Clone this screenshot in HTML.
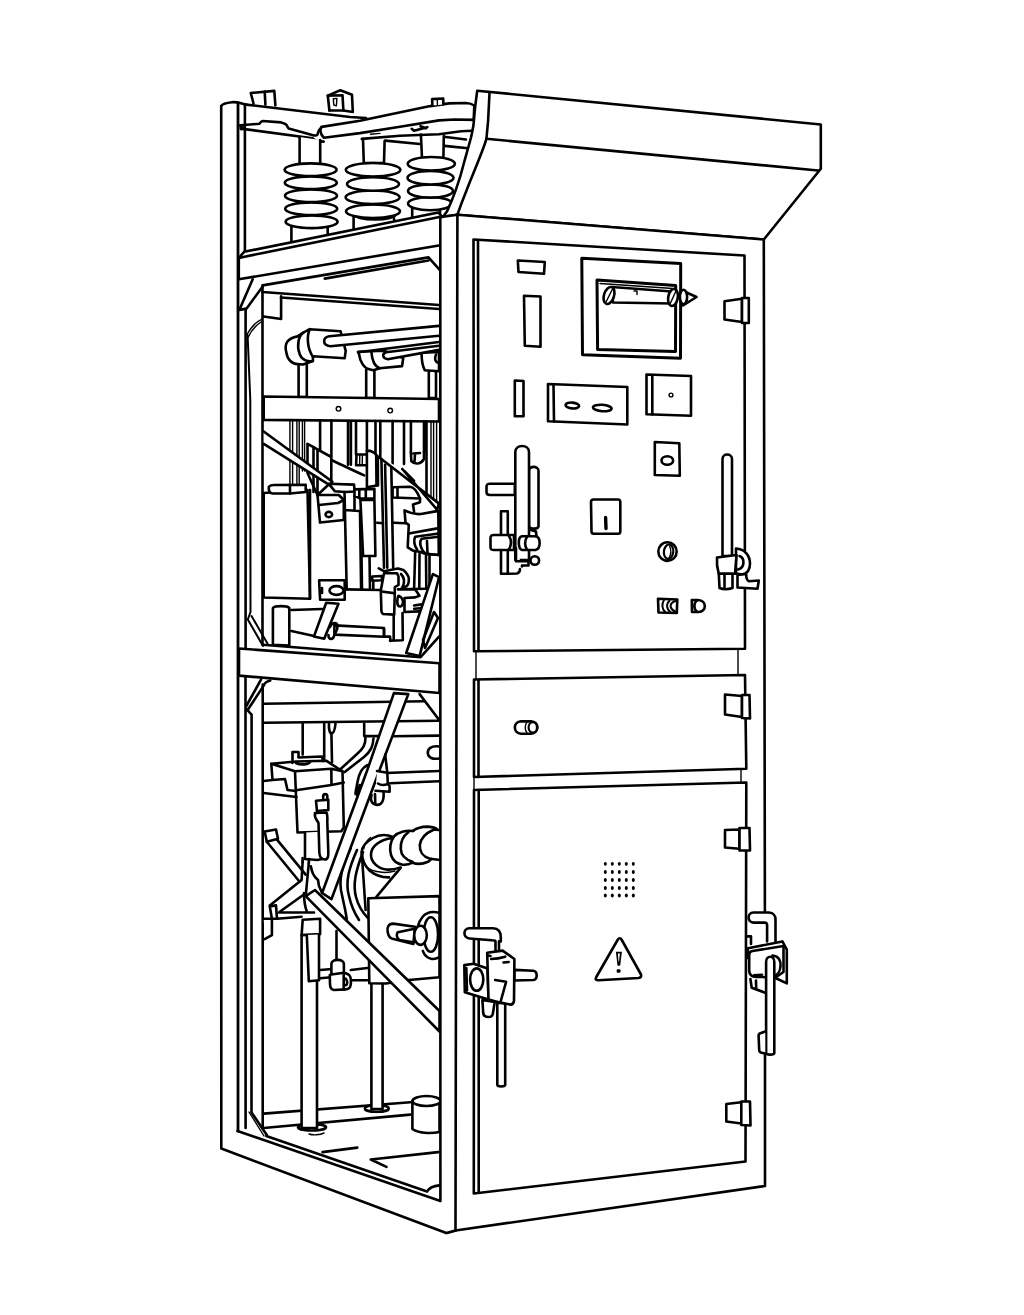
<!DOCTYPE html>
<html>
<head>
<meta charset="utf-8">
<title>Switchgear cabinet line drawing</title>
<style>
html,body{margin:0;padding:0;background:#fff;font-family:"Liberation Sans",sans-serif;}
svg{display:block;width:1024px;height:1315px;}
.s{fill:none;stroke:#000;stroke-width:2.6;stroke-linecap:round;stroke-linejoin:round;}
.w{fill:#fff;stroke:#000;stroke-width:2.6;stroke-linecap:round;stroke-linejoin:round;}
.t{fill:none;stroke:#000;stroke-width:1.4;stroke-linecap:round;stroke-linejoin:round;}
.wt{fill:#fff;stroke:#000;stroke-width:1.4;stroke-linecap:round;stroke-linejoin:round;}
.k{fill:#000;stroke:none;}
</style>
</head>
<body>
<svg viewBox="0 0 1024 1315" width="1024" height="1315">
<rect x="0" y="0" width="1024" height="1315" fill="#fff"/>

<!-- ===== LEFT OPEN FRAME ===== -->
<g id="frame">
<!-- left post -->
<path class="s" d="M221.2 106 L221.3 1148.5 L446.3 1233 L455.5 1230.5"/>
<path class="s" d="M221.2 106 C222.5 103.5 228 102.6 232 102.2 C237 101.6 241 103.5 246.3 104.6"/>
<path class="s" style="stroke-width:2.8" d="M238 103 L238 1131"/>
<path class="s" d="M237.5 1131 L440.4 1201"/>
</g>
<!--FRAME-END-->

<!-- ===== INTERIOR TOP ===== -->
<g id="int-top">
<!-- back rail -->
<path class="s" d="M385.2 140.6 L419.8 144 M443.8 136.8 L466 139.5 M444.5 145.9 L468 148.3"/>
<!-- top rail (left) -->
<path class="s" d="M246.3 104.6 L350 117 L366 118"/>
<path class="s" d="M240.4 125.2 L259.3 123.8 C261 122 261.5 121 262.7 121 L281.2 122.4 C284 123 286 124 286.6 125.2 C287.5 127 288 128 288.7 128.6 L314 135.4 C316 135.6 317 135.2 317.4 134.7 L318.8 130.6 L321.5 127.2"/>
<path class="s" d="M240.4 125.2 L241.2 129.3 L243 127.3"/>
<path class="s" d="M240.8 128.6 L312.6 138.2 L315.4 140.9 L323.6 141.6"/>
<path class="s" d="M244.9 105.3 L244.9 252.5"/>
<!-- tab 1 -->
<path class="w" d="M253.5 103.5 L250.8 93 L274.3 90.9 L275.4 105.5"/>
<path class="s" d="M264.7 91.6 L265.4 104.6"/>
<!-- tab 2 -->
<path class="w" d="M329.4 110.5 L327.8 95.6 L340.3 90.2 L352 94.8 L352.8 112 L343.4 110.5"/>
<path class="s" d="M327.8 95.6 L342.5 95.2 L343.4 110.5 L329.4 110.5"/>
<path class="t" d="M333.3 98.8 L336.9 98.4 L336.4 105.8 L333.8 105 Z"/>
<!-- insulator 1 -->
<path class="w" d="M299.6 137 L299.6 164 L320.2 164 L320.2 140"/>
<path class="w" d="M291.4 224 L291.4 244 L327.7 236 L327.7 224 Z"/>
<ellipse class="w" cx="311.6" cy="221.8" rx="26" ry="6.3"/>
<ellipse class="w" cx="311.2" cy="208.7" rx="26" ry="6.3"/>
<ellipse class="w" cx="311" cy="195.7" rx="26" ry="6.3"/>
<ellipse class="w" cx="310.8" cy="182.7" rx="26" ry="6.3"/>
<ellipse class="w" cx="310.6" cy="169.7" rx="26" ry="6.3"/>
<!-- insulator 2 -->
<path class="w" d="M363 139 L363.8 163 L384 163 L384.6 141"/>
<path class="w" d="M353.6 214 L353.6 232 L395 224 L393 214 Z"/>
<ellipse class="w" cx="375" cy="214" rx="21" ry="5.5"/>
<ellipse class="w" cx="373" cy="211.3" rx="27" ry="6.8"/>
<ellipse class="w" cx="372.6" cy="197.3" rx="27" ry="6.8"/>
<ellipse class="w" cx="373" cy="184" rx="26" ry="6.8"/>
<ellipse class="w" cx="373.1" cy="169.8" rx="27.3" ry="6.8"/>
<!-- insulator 3 -->
<path class="w" d="M420.9 134.5 L422 158 L443.4 158 L443.8 136"/>
<path class="w" d="M412.2 205 L412.2 222 L440 216 L440 205 Z"/>
<ellipse class="w" cx="430" cy="203.6" rx="22" ry="6.6"/>
<ellipse class="w" cx="430.5" cy="191" rx="22.5" ry="6.6"/>
<ellipse class="w" cx="430.5" cy="177.7" rx="23" ry="6.8"/>
<ellipse class="w" cx="431.3" cy="163.8" rx="23.6" ry="6.8"/>
<!-- beam -->
<path class="w" d="M360 120.8 L321.6 126.9 C319.5 129.5 320.3 134.5 323.9 137.8 L360 133.1 L400 126.8 L439 120.4 L454.7 119.5 L473.7 119.9 L474.3 105.5 C471 103.4 468 103 465.5 103 L449.1 103.4 L430.3 106.1 Z"/>
<path class="w" d="M432.4 105.5 L432.1 99.1 L443.2 98.5 L443.4 104.4"/>
<path class="t" d="M437.3 99 L437.4 104.6"/>
<path class="s" d="M361.8 138.9 L400 135.8 L419 135 L439 134.2 L461 131.3 L472 130.8"/>
<path class="s" d="M411.7 128.8 L414 130.7 L427.3 127.2 M420.5 126.2 L425.8 128.3"/>
<path class="t" d="M370.5 134.2 L380 133.4"/>
<!-- shelf rail -->
<path class="w" d="M244.2 251.8 L438.3 212.6 L441.9 216.4 L440.3 245.2 L238.8 279.3 L238.8 257.9 Z"/>
<path class="s" d="M238.8 257.9 L441.9 216.4"/>
</g>
<!--INT-TOP-END-->

<!-- ===== INTERIOR MID ===== -->
<g id="int-mid">
<!-- compartment outline -->
<path class="s" d="M252.7 279.3 L239.3 309.9 L246.6 308.6 L262.5 286.7"/>
<path class="s" d="M245.6 309 L245.6 648"/>
<path class="s" style="stroke-width:2" d="M247.6 335 L250.3 400 L250.5 612 L247.8 619.5 L263 646 M251.5 616 L267.5 643.5"/>
<path class="s" d="M262.5 644.8 L262.5 285.4 L428.5 257.4 L439.5 269.6"/>
<path class="s" d="M324.7 278.6 L428.5 260.5"/>
<path class="s" d="M262.5 292 L439 305 M281 297.5 L439 309"/>
<path class="s" d="M281.1 296.4 L281.1 319 L263.7 316.5"/>
<path class="t" d="M247 334.5 C250 329 255 322.5 261.6 319.3 M248.3 337 C251 331 256 325 262 321.5"/>
<!-- contact stems -->
<path class="w" d="M298.6 364 L298.6 397 L306.8 397 L306.8 362"/>
<path class="w" d="M366.2 370 L366.2 398 L374.4 398 L374.4 370"/>
<path class="w" d="M428.8 372 L428.8 398 L436 398 L436 372"/>
<!-- contact 3 (right, partially hidden) -->
<path class="w" d="M421.6 352.8 C421.5 362 423 367 424.7 370.2 L439 371.3 L439 352 Z"/>
<path class="s" d="M436 354.5 C434.5 358 434.5 362 439 363"/>
<!-- tube 2 + contact 2 -->
<path class="w" d="M358 351.8 L384 350.8 L403.2 358 L402.1 366.1 L379.6 368.2 L373.4 370.2 L369.2 369.2 C364 368 360 362 359 353.8 Z"/>
<path class="s" d="M371.4 351.8 C372 361 374 366 379.6 368.2"/>
<path class="w" d="M439 345.8 L386 352.2 C382 353.5 382 358.5 387.8 359.2 L439 349.9"/>
<path class="s" d="M358 352.2 L439 342"/>
<!-- contact 1 + tube 1 -->
<path class="w" d="M297.5 336.4 C287.3 338.4 284.2 343.6 286.2 351.8 C287.3 360 292.4 364.1 297.5 364.1 L303 364.5 L312.9 361 L312.9 356.3 L344.7 358.3 L345.7 350.8 L341.6 335.4 L340.6 331.3 L309.8 329.2 L303.7 332.3 Z"/>
<path class="s" d="M303.7 332.3 C298.5 335.4 296.5 345.6 299.6 353.8 C301.6 360 307.8 362 312.9 361"/>
<path class="s" d="M309.8 329.2 C306.8 335.4 306.8 347.7 312.9 356.9"/>
<path class="w" d="M439 325.9 L329.3 336.2 C322.5 337 322 345.5 330.3 346.2 L439 335.7"/>
<!-- crossbar -->
<path class="w" d="M263.7 396.5 L439 399 L439 421.5 L263.7 419.9 Z"/>
<circle class="t" cx="338.5" cy="408.8" r="2.3"/>
<circle class="t" cx="390.2" cy="410.6" r="2.3"/>
<!-- vertical bars under crossbar -->
<path class="t" d="M289.9 420.5 L289.9 486 M292.6 420.5 L292.6 486 M296.9 420.5 L296.9 486 M299.2 420.5 L299.2 486 M302.4 420.5 L302.4 471 M304.6 420.5 L304.6 471"/>
<path class="s" d="M320.1 420.5 L320.1 450 M331.4 420.5 L331.4 456 M348 421 L348 464.7 M350.9 421 L350.9 464.7 M356 421 L356 454.5 M366.9 421 L366.9 451 M375.5 421 L375.5 453 M380.3 421 L380.3 457 M392.6 421 L392.6 467 M404 421 L404 464 M410.9 421 L410.9 452 M424 421.3 L424 452 M426.5 421.3 L426.5 493"/>
<path class="t" d="M431 421.3 L431 497 M433.6 421.3 L433.6 499 M436.6 421.3 L436.6 502"/>
<!-- small brackets at top of plates -->
<path class="s" d="M356.7 454.5 L366.9 454.5 M356.1 465.2 L366.9 465.2 M356.5 454.5 L356.1 465.2"/>
<path class="t" d="M359.8 455 L359.6 465 M362.4 455 L362.2 465"/>
<path class="s" d="M410.9 452 L411.3 461 C415 465 421 464.3 424 459 L424 452 M413.5 453.5 L420 453 M415 454 L414.6 461"/>
<!-- plate left-centre -->
<path class="w" d="M307.5 443.8 L331.3 457 L331.3 482 L317.5 495 L307.5 473 Z"/>
<path class="s" d="M313.5 447 L313.5 492 M317.5 450 L317.5 495"/>
<path class="s" d="M331.3 460 C338 463 352 470 364.2 475.4"/>
<!-- diagonal brace left -->
<path class="w" d="M263.7 431.5 L332.4 481.8 L329.3 484.9 L263.7 443.8"/>
<!-- tall plate centre -->
<path class="w" d="M366.9 487.3 L366.9 450.7 C369 450.5 372 451.5 374.4 452.9 L376.2 455 L376.5 485.5 Z"/>
<path class="s" d="M376.2 455 L377.8 456.5 L378 485.5 L376.5 485.5"/>
<!-- right diagonal -->
<path class="w" d="M379.7 457.7 L438.8 503.4 L437.2 509.8 L402.3 469"/>
<path class="s" d="M404.5 471.2 L414.1 480.8"/>
<!-- three long slanted verticals -->
<path class="s" d="M381.4 459 L384 567.8 M385.1 464.7 L387.3 567.8 M391.3 467 L393.2 567.8"/>
<!-- tank -->
<path class="w" d="M263.7 493 L263.7 597.5 L310 598.8 L307.5 490 Z"/>
<path class="w" d="M268.8 486.9 C270 485.5 272 485 274 485 L305.7 484.8 L305.7 492 L290 493.5 L272.5 493.5 C269 493 268.5 490 268.8 486.9 Z"/>
<path class="s" d="M290 485 L290 493.5"/>
<!-- block at end of brace -->
<path class="w" d="M328.8 483.8 L354 484.6 L354.5 489.4 L354.5 491.5 L345 492 L335 491.3 Z"/>
<!-- bracket with hole -->
<path class="w" d="M317.5 495 L338.8 495 L343.8 500 L343.8 520 L320 522.5 Z"/>
<path class="s" d="M319 505 L338 503 L343.8 500"/>
<ellipse class="s" cx="328.8" cy="514.5" rx="3.3" ry="2.6"/>
<!-- centre block + column -->
<path class="s" d="M344.5 492 L346.7 589.5 M344.3 510 L359.3 511 M354.5 496 L354.5 510.5"/>
<path class="w" d="M354.5 489.4 L374.4 488.9 L374.4 498.5 L360.4 498.5 L354.5 495.9 Z"/>
<path class="s" d="M359.3 489.5 L359.3 498 M365.8 489.3 L365.8 498.5"/>
<path class="w" d="M360.4 500 L363.1 556 L375.4 556 L374.4 500 Z"/>
<path class="s" d="M377 522.7 L383 523.3 M360 511 L361.1 589.5"/>
<!-- right shapes -->
<path class="w" d="M392.6 487.3 L409.8 486.7 C414 487 417.3 491.6 420 498.5 L392.6 497.5 Z"/>
<path class="s" d="M397.5 487.5 L397.5 497.5"/>
<path class="s" d="M420 498.5 L420 502.3 L413 504.5 L414.1 512"/>
<path class="w" d="M404.5 510.4 C410 513 416 514.5 421 514 L438.3 510.9 L438.8 555 L425.9 553.9 L419.5 551.7 L413 550.6 L407.7 547.4 L408.8 524.9 L405.5 522.7 Z"/>
<path class="s" d="M408.8 533.5 L438.8 528.1 M393.7 522.7 L405.5 523.3"/>
<path class="s" d="M438.8 533.5 L415.2 536.7 C413.5 540 414 546 417.3 549.6"/>
<path class="s" d="M438.8 536.7 L421.6 538.8 C419 542 420 549 425.9 553.9 L438.8 555"/>
<path class="s" d="M427 541 L427.5 554"/>
<path class="s" d="M415.2 552 L414.1 588.5 M419.5 553.9 L419.3 588.5 M426 556 L426.3 588.5 M429.5 556 L429.5 588.5"/>
<!-- panel bottom / tank line -->
<path class="s" d="M310 598.8 L310 490"/>
<!-- block with oval -->
<path class="w" d="M319.1 580.2 L344.7 580.2 L344.7 599.7 L320.1 599.7 Z"/>
<ellipse class="s" cx="336.5" cy="590.5" rx="7" ry="4.4"/>
<path class="s" d="M322 588 L322 593"/>
<!-- floor line + cylinder + rod -->
<path class="s" d="M262.7 644.8 L420.6 657.2 L439 636.6"/>
<path class="s" d="M291.4 610 L322.1 609 M291.4 631 L314 636"/>
<path class="w" d="M272.9 608 L272.9 644.8 L289.3 645.5 L289.3 608 C287 605.5 275 605.5 272.9 608 Z"/>
<path class="w" d="M334.4 625.4 L384 628 L384 636.8 L334.4 634.6 Z"/>
<path class="w" d="M326.2 602.8 L338.5 603.8 L324.2 638.7 L313.9 636.6 Z"/>
<path class="s" d="M330 627 C332 622 337 622 337.5 626 C338 631 335 632 334 636 C333 640 328 640 328.5 635"/>
<!-- mechanism block -->
<path class="s" d="M361.5 556 L362 589.4 M369.5 556 L370 589.4 M346.4 589.4 L380.8 590"/>
<path class="s" d="M372.2 576.5 L381.9 576 L381.9 580.3 L372.2 580.8 Z M373.3 581 L373.3 589.5"/>
<path class="s" d="M378.7 568.4 L384 571.2 L398 568.4 L403.4 570 C407 573 409 577 408.8 578.6 C409 582 408 585 406.6 586.2 L402 587.5 M401 574 C404 577 404.5 582 403 586"/>
<path class="w" d="M384 573.3 L397 573.3 L398.5 576.5 L398.5 585 L394.8 587.2 L394.8 592.6 L394.2 614.6 L383 614 C381.8 613 381.4 612.5 381.4 611 L380.8 590.5 Z"/>
<path class="s" d="M381.4 591.5 L393.7 593.1"/>
<path class="s" d="M398 589.4 L415.2 589.4 L419.5 595.8 L415.2 597.4 L404.5 598 L404.5 612 L419.5 611.4 M398 589.2 L427 588.8 M414.1 605.5 L421.6 604.4 M414.1 608.7 L420.6 608.2"/>
<path class="s" d="M398.5 595.8 C402 597 404 601 402.5 604.5 C401.5 607 399.5 607 398 605.5 C397 603 397 598 398.5 595.8 Z"/>
<path class="s" d="M393.7 615 L393.7 639 M402.5 613 L402.8 640 M390 640.8 L402.5 640.3 M384 629 L384 636.6 L390 636.6 L390.5 641"/>
<!-- right strut -->
<path class="w" d="M432.9 574.1 L439 577.2 L419.6 656.1 L406.2 653 Z"/>
<path class="s" d="M423 640 L434 612 L438 618 L425 648 Z"/>
</g>
<!--INT-MID-END-->

<!-- ===== INTERIOR LOW ===== -->
<g id="int-low">
<!-- left inner verticals -->
<path class="s" d="M261 679.7 L246.3 706 M270.2 680.5 C266 681.5 264.5 683 263.7 685.6 L247.6 710"/>
<path class="s" d="M245.5 677 L245.6 1128"/>
<path class="s" d="M246.5 709.2 L251.6 714.6 L251.5 1112.5 L266.8 1135"/>
<path class="t" d="M249 1112 L264 1136"/>
<path class="s" d="M262.7 684.5 L262.7 1127"/>
<!-- back floor rail + floor marks -->
<path class="s" d="M263.7 1113.6 L410.3 1102.3 M263.7 1128 L410.3 1114.6"/>
<path class="s" d="M266.3 1136 L427 1191.6 C429 1188 433 1186 439.3 1185.4"/>
<path class="s" d="M322.5 1152.1 L357.3 1147.6 M386.5 1166.9 L370.8 1159.5 L438.2 1152.1"/>
<path class="t" d="M309 1134 C313 1135.5 320 1135 324 1133"/>
<!-- cylinder on floor -->
<path class="w" d="M412.4 1101 L412.4 1129 C418 1133 430 1134 439.5 1132 L439.5 1099 Z"/>
<ellipse class="w" cx="426.5" cy="1101" rx="14" ry="5"/>
<!-- post 2 -->
<ellipse class="w" cx="376.8" cy="1108.4" rx="12" ry="3.4"/>
<path class="w" d="M371.4 984.3 L371.4 1109 L382.6 1109 L382.6 984.3"/>
<!-- post 1 -->
<ellipse class="w" cx="312" cy="1127.3" rx="14" ry="3.2"/>
<path class="w" d="M301.6 935 L301.6 1128 L317 1128 L317 981"/>
<!-- horizontal rail under mid rail -->
<path class="s" d="M263.7 703.7 L424.7 701.3 M263.7 722.8 L439 720.8"/>
<path class="s" d="M419.6 694.1 L439 719.7"/>
<!-- things hanging under rail -->
<path class="s" d="M302.7 723.8 L302.7 754.6 M324.2 723.8 L324.2 760.7 M331.4 733 L332 762"/>
<path class="s" d="M329 723.5 C328.5 730 330 733.5 331.4 733.5 C333.5 733.5 335 729 335.5 723.5"/>
<path class="s" d="M364.2 723.8 L364.2 736.1 L379.6 736.1"/>
<path class="s" d="M365.5 737.5 C365.5 745 363 749 357 754 L340.6 769 M373.5 738.5 C373 746 371 751 364 757 L344.7 772"/>
<path class="s" d="M392 736.3 L439 735.6"/>
<!-- right: circle & horizontals -->
<path class="s" d="M439 746.5 C431 745.5 427.5 749 427.8 753 C428 758 433 759.5 439 758.5"/>
<path class="s" d="M385.7 773 L439 771 M389.8 783.3 L439 781.3"/>
<!-- bushing (big insulator horizontal) -->
<path d="M393 837 C386 834 379 834.5 373 838 C366 842 361.7 847 361.7 852 C362 860 365 866 369.5 870.5 C376 876 383 877.5 389 877.4 L402.7 864.7 L428 861.8 L439 860 L439 829 L427 826.6 L413.5 831 Z" fill="#fff" stroke="none"/>
<path class="s" d="M393 837 C386 834 379 834.5 373 838 C366 842 361.7 847 361.7 852 C362 860 365 866 369.5 870.5 C376 876 383 877.5 389 877.4"/>
<path class="t" d="M363.8 849 C364.3 843 367 840 370.5 837.5 M366 866.6 C369 869.5 373 871.5 382 872.3 C388 872.8 392 872 395 871"/>
<path class="s" d="M391 838.3 C380 840 371.5 846 371 854 C370.5 862 378 868.5 386 869.5 C391 870 396 869 399.8 867.6"/>
<path class="s" d="M413.5 831 C406 830 398 832 394 836.4 C390 842 389.5 849 391 855 C393 861 398 864 402.7 864.7 C406 865 410 864 412.5 862.7"/>
<path class="s" d="M408.6 832 C403 836 400.5 843 400.8 849 C401 855 404 859 412.5 861.8"/>
<path class="s" d="M412.5 831 C417 828 422 826.6 427.1 826.6 C431 826.8 435 827.8 437 829 M412.5 862.7 C417 864.5 423 864 428 861.8 C430 860.5 431 859.5 431 858.8"/>
<path class="s" d="M438.4 830 L434 829.5 C426 833 420.5 839 419.8 845 C419.5 852 422 856 430 858.8 L438.4 859.8"/>
<path class="s" d="M400.8 867.6 L376.4 896.9 M361.7 852 L365.6 910"/>
<!-- box lower-right with knob -->
<path class="w" d="M368.3 898.2 L439.5 896.1 L439.5 977.2 L406.2 980.2 L386 983.5 L369.3 983.3 Z"/>
<path class="s" d="M439.2 912.7 C432 911 426 912.5 422.5 917 C420 920 418.5 923 417.8 926.5 M422.8 950.9 C424.5 955.5 427.5 958 431 958.8 C434 959.3 437 958.5 439.2 957.2"/>
<ellipse class="s" cx="430.8" cy="934.5" rx="7.3" ry="17.3"/>
<path class="w" d="M415 926.7 L393.1 923.6 C388.5 923.8 386.8 927.5 387.6 931.5 C388.3 935.5 390 937.8 391.6 938.4 L413.4 943.9 Z"/>
<path class="s" d="M413.4 929 L397.8 932.2 C396 934 396.5 938 399.4 940 L413.4 942.3"/>
<ellipse class="w" cx="420.5" cy="935.3" rx="6.3" ry="9.6"/>
<!-- transformer box -->
<path class="w" d="M271.3 763.8 L296 761.5 L326.2 760.7 L342.5 771.3 L343.8 827.5 L341.3 831.3 L297.5 832.5 L295 771.3 Z"/>
<path class="s" d="M295 771.3 L331.3 768.8 L342.5 771.3 M297.5 790 L331.5 785 L343.8 782.5 M331.3 768.8 L331.5 785"/>
<path class="s" d="M271.3 763.8 L272.5 780 L285 779 L287.5 790 L296 791 M263.7 781 L272.5 780 M263.7 793 L296.5 797"/>
<path class="s" d="M292.5 763 L292.5 752 L298.5 752 L298.5 757.5 L322 756.5 L323 761 M296 763 C300 765 308 765 310 762"/>
<!-- lower part of box + cable -->
<path class="w" d="M305 832.5 L305 859 L317.5 860 L326 858 L326 831.5"/>
<path class="w" d="M316 800.8 L328.3 799.7 L328.3 810 L317 811 Z"/>
<path class="s" d="M323.2 800 L323.2 796 C323.5 793.5 327 793.5 327.3 796 L327.3 799.7"/>
<path class="w" d="M315 813 C314 818 317 820 318.5 823 L319.3 852 C319.5 857 322 859.5 325 859.5 C328 859.5 328.5 856 328.3 852 L327.3 822 C327.5 818 327.5 815 326.5 812.5 Z"/>
<!-- left small block + X brace -->
<path class="w" d="M264.7 831.5 L276 829.5 L278 838.7 L266.8 841.8 Z"/>
<path class="s" d="M266.8 841.8 L299.6 881.8 M277 839.7 L305.7 874.6"/>
<path class="s" d="M302.6 862.3 L301.6 880 L269.8 905.4 M308.8 863 L306 893 L280.1 911.5"/>
<path class="s" d="M302.6 862.3 L302.6 858 M308.8 863 L309 859"/>
<!-- cables centre -->
<path class="s" d="M350.8 848 C342 866 338 880 342 895 C344 905 346 912 346.8 920 M357 850 C349 868 345 882 349 896 C351 905 355 914 359 920 M363 852 C356 870 352.5 884 356 897 C358 905 363 913 368 918"/>
<!-- long diagonal strut A -->
<path class="w" d="M393.9 693.1 L367.3 770 L322.1 893 L331.4 899.2 L379.6 770 L408.3 694.1 Z"/>
<path class="s" d="M367.2 765.2 C361 768 358.5 776 357.5 782 C356.5 788 355.5 791 355.5 794 M359.8 785 C358.5 789 357.5 792 357 795"/>
<path class="s" d="M385.2 754.5 L387.2 772"/>
<path class="w" d="M377 771 L387.3 772.8 L387.8 784 L389.6 786 L389.6 791.8 L375.5 790.8"/>
<path class="s" d="M378 783.5 C381 785.5 385 785 387.8 784"/>
<path class="s" d="M371.5 795 C369.8 800.5 372 804.6 377 804.9 C382 805 384 800.5 383.6 792.5 M375 794 L375.3 804"/>
<!-- diagonal strut B (down-right) -->
<path class="s" d="M310.9 866.4 C312 872 313 876 318 880 L319 886 L322.1 893"/>
<path class="w" d="M315 890 L439.5 1011 L439.5 1031.5 L305.7 896.2 Z"/>
<!-- horizontal bar + bracket left -->
<path class="s" d="M277 918.7 L301.6 916.7 M279 912.5 L314 912.5 M304 893 C304 900 305 907 307 912"/>
<path class="w" d="M263.7 918.7 L271.9 918.7 L271.9 935.1 L264.7 939.2"/>
<path class="w" d="M269.8 906.4 L276 905.4 L277 918.7 L271.9 918.7 Z"/>
<path class="w" d="M302.7 919.7 L320.1 918.7 L320.1 934.1 L301.6 935.1 Z"/>
<path class="w" d="M306.8 935 L308.8 981.3 L319 980.3 L319 934.5"/>
<!-- valve -->
<path class="s" d="M336.5 931 L336.5 960.8"/>
<path class="s" d="M320.1 970 L332.4 969 M320.1 978.2 L331.4 977.2 M350.8 970 L367.3 968 M350.8 980.2 L367.3 980.2"/>
<path class="w" d="M331.4 974 L331.4 964 C331.4 958.5 343.9 958.5 343.9 964 L343.9 972.5 L348.5 974.5 C351 976 351.2 979 350.9 983.5 C350.5 988 349 989.3 346 989.4 L334 990 C330.5 989.5 330 987 330 984 L329.8 975 Z"/>
<path class="s" d="M331.4 974.5 L343.9 972.8 M343.9 978 C347 978.5 348 982 346.5 985 L343.7 985.5 M343.7 974 L343.7 989.5"/>
</g>
<!--INT-LOW-END-->
<g id="midrail">
<path class="w" d="M239 648.5 L439.5 663.3 L439.5 693 L239 675.6 Z"/>
</g>
<!--MIDRAIL-END-->


<!-- ===== CAP ===== -->
<g id="cap">
<path class="w" d="M477.2 90.7 L820.8 124.5 L820.8 168.8 L763.8 239.5 L457.4 214.7 L443 216.8 C445 214 446 213 447.1 211.3 C450 205 453 198 456 189.4 C459 181 462 171 464.2 162 C467 152 469 145 471 137.5 C472.5 131 473 128 473.5 125 L475.1 107.4 Z"/>
<path class="s" d="M489.5 93 L488.1 121 L486.4 138.8 L818 170.5"/>
<path class="s" d="M486.4 138.8 C484 147 481 154 477.9 162 C474 172 470 181 466.9 189.4 C463 199 460 207 457.4 214.7"/>
</g>
<!--CAP-END-->

<!-- ===== FRONT BODY ===== -->
<g id="front">
<path d="M440.3 217.5 L443 216.8 L457.4 214.7 L763.8 239.5 L765 1186 L455.5 1230.5 L446.3 1233 L440.4 1201 Z" fill="#fff" stroke="none"/>
<path class="s" d="M440.4 1201 L440.3 217.5 L443 216.8 L457.4 214.7 L763.8 239.5 L764.9 912.5 M765 1054 L765 1186 L455.5 1230.5 L446.3 1233"/>
<path class="s" d="M457.4 214.7 L455.5 1230.5"/>
<!-- upper door -->
<path class="s" d="M473.5 239.5 L744.5 255.5 L745 648.8 L474 651.3 Z"/>
<path class="s" d="M478 241 L478.5 651"/>
<!-- drawer -->
<path class="s" d="M474 679.5 L745 675 L746.3 768.8 L474 777 Z"/>
<path class="s" d="M478.5 680 L478.5 777"/>
<path class="t" d="M476 651.3 L476 679.5"/>
<path class="t" d="M738 649 L738 675"/>
<!-- lower door -->
<path class="s" d="M474 790 L746.3 782.5 L745.5 1161.5 L473.8 1193.5 Z"/>
<path class="s" d="M478.7 790 L478.7 1192.5"/>
<path class="t" d="M474 777 L474 790"/>
<path class="t" d="M741 769 L741 782.5"/>
</g>
<!--FRONT-END-->

<!-- ===== DOOR DETAILS ===== -->
<g id="details">
<!-- small rect, tall rect -->
<path class="s" d="M517.8 260.5 L544.8 262 L544 273.8 L518.5 272 Z"/>
<path class="s" d="M524 295.8 L540.5 296.5 L540.5 346.8 L524.8 345.8 Z"/>
<!-- display -->
<path class="s" style="stroke-width:3" d="M581.8 258.3 L680.7 263.5 L680.5 358.3 L582.5 354.7 Z"/>
<path class="s" style="stroke-width:3" d="M597 280 L675.7 285.5 L675.5 351.5 L597.6 349.5 Z"/>
<path class="t" d="M600 283.5 L673 288.5"/>
<path class="w" d="M612 287 L672 291.5 L672 303.5 L613 302.5 Z"/>
<ellipse class="w" cx="609" cy="295.5" rx="5" ry="8.8" transform="rotate(18 609 295.5)"/>
<path class="t" d="M606 302 L612.5 289"/>
<path class="t" d="M634 291 L637 291 L637 294.5"/>
<ellipse class="w" cx="673" cy="297.5" rx="4.8" ry="8.6" transform="rotate(10 673 297.5)"/>
<path class="t" d="M670 304 L676 291"/>
<path class="w" d="M681 290 L696.5 297 L683 305.5 Z"/>
<ellipse class="w" cx="683.5" cy="297" rx="3.6" ry="7.2"/>
<!-- switch small, 2-oval panel, right square -->
<path class="s" d="M514.8 380.5 L523.5 381 L523.5 416.3 L514.8 416.3 Z"/>
<path class="s" d="M548 384 L627.3 387 L627.3 424.5 L548 421.3 Z"/>
<path class="s" d="M553.5 384.5 L554 421.5"/>
<ellipse class="s" cx="572.3" cy="405.5" rx="6.8" ry="2.9" transform="rotate(5 572.3 405.5)"/>
<ellipse class="s" cx="602.3" cy="408" rx="9.3" ry="3.2" transform="rotate(4 602.3 408)"/>
<path class="s" d="M646.5 374.5 L691 376 L691 415.8 L646.5 414.3 Z"/>
<path class="s" d="M652.3 375 L652.3 414.5"/>
<circle class="t" cx="671" cy="395" r="1.9"/>
<!-- rect with oval -->
<path class="s" d="M654.8 442 L679.3 443.3 L679.8 475.8 L654.8 475 Z"/>
<ellipse class="s" cx="667.3" cy="460.5" rx="5.8" ry="4.3"/>
<!-- square with I -->
<path class="s" d="M593.5 499.5 L618 499.5 Q620.3 499.5 620.3 502 L620.3 531.5 Q620.3 533.8 618 533.8 L594 533.8 Q591.5 533.8 591.5 531.5 L591 502 Q591 499.5 593.5 499.5 Z"/>
<path class="s" style="stroke-width:3.4" d="M605.6 517.5 L606 528.5"/>
<!-- round knob -->
<ellipse class="s" cx="667.5" cy="551.6" rx="9.2" ry="9.3"/>
<ellipse class="s" style="stroke-width:2.2" cx="668.6" cy="551.7" rx="4.7" ry="7.2" transform="rotate(6 668.6 551.7)"/>
<path class="t" d="M669.8 546.5 C671.2 550 670.8 555 669 557.8"/>
<!-- small indicator + D -->
<path class="s" d="M658 598.8 L677.3 599.5 L676.8 613 L658.5 612.5 Z"/>
<path class="s" style="stroke-width:2" d="M663.8 600.5 C661.5 604 662 609 665 611.8 M676 601 C669.5 602.5 668.5 608 675 611.5 M669.5 600.8 C666 604 666.3 609 670.5 612"/>
<path class="s" d="M691.8 600 L698 600 C707 600.5 707 611.5 698.5 612 L692 612 Z"/>
<path class="s" d="M697 600.5 C693.5 603 693.5 609 697 611.8"/>
<!-- left handle on upper door -->
<path class="w" d="M529 466.3 L529 471 C529 465.5 538.5 465.5 538.5 471 L538.5 526 C538.5 529.5 530 529.5 529 526 Z"/>
<path class="w" d="M486.5 487 C486.5 484 488 483.8 490 483.8 L514.8 483.8 L514.8 495 L490 495 C488 495 486.5 494.5 486.5 492 Z"/>
<path class="w" d="M501 511.3 L507.8 511.3 L507.8 573.8 L501 573.8 Z"/>
<path class="w" d="M515.3 560 L515.3 452 C515.3 444 529 444 529 452 L529 560 Z"/>
<path class="w" d="M490.5 538 C490.5 535 492 535 494 535 L514 535 L514 550 L494 550 C491.5 550 490.5 549.5 490.5 547 Z"/>
<path class="s" d="M509 536 C511.5 540 511.5 545 509 549.5"/>
<path class="w" d="M516 548 L516 561.3 L528.5 561.3 L528.5 565.5 L522 565.5 L522 566.5"/>
<circle class="w" cx="534.8" cy="560.5" r="4.3"/>
<path class="w" d="M522 536.3 L535.5 536.3 C541 537 541 549 535.5 550 L522 550 C518 549 517.5 537 522 536.3 Z"/>
<path class="s" d="M527 537 C524.5 540 524.5 546.5 527 549.5"/>
<path class="s" d="M531 530 L536 531.5 L536.5 536.5"/>
<path class="s" d="M507.8 573.8 L517 573.5 C519 573 520 571 520 569"/>
<!-- right rod + lock on upper door -->
<path class="w" d="M722.5 556 L722.5 459 C722.5 453 732 453 732 459 L732 556 Z"/>
<path class="w" d="M736 548.5 C745 549 750 556 750 563.5 C750 571 746 574 742 574.5 L736 573.5 Z"/>
<path class="s" d="M739.5 556 C745 558 745 568 738 569.5"/>
<path class="w" d="M717 557.5 L736.5 555 L735 573.8 L718.8 573.8 C717 568 716.5 563 717 557.5 Z"/>
<path class="w" d="M718.8 573.8 L732.5 573.8 L732.5 588 C728 589.5 723 589.5 719.5 588 Z"/>
<path class="s" d="M724.5 574 L724.5 588.5"/>
<path class="w" d="M737.5 575 L737.5 587.5 L757.5 588.8 L758.8 580.5 L749 581.3 C746.5 580 746 577 746.3 574 Z"/>
<!-- hinges -->
<path class="w" d="M724.5 301.3 L742 298.8 L742 322 L724.5 319.5 Z"/>
<path class="w" d="M742 298 L748.8 298 L748.8 323 L742 323 Z"/>
<path class="w" d="M725 694.5 L742 696 L742 717 L725 714.5 Z"/>
<path class="w" d="M742 695 L749.5 695 L750 718.5 L742 718 Z"/>
<path class="w" d="M725 830 L739.5 829.5 L739.5 848.8 L725 847.5 Z"/>
<path class="w" d="M739.5 828 L749.5 828 L750 850.5 L739.5 850.5 Z"/>
<path class="w" d="M726.3 1104 L741.3 1102.3 L741.3 1123.5 L726.3 1121.5 Z"/>
<path class="w" d="M741.3 1101.5 L750 1101.5 L750.5 1125.5 L741.3 1125 Z"/>
<!-- drawer knob -->
<path class="s" d="M521 721.4 L531 721.2 C539.3 721.4 539.3 733.6 531 733.7 L521 733.7 C512.8 733.4 512.8 721.7 521 721.4 Z"/>
<ellipse class="s" style="stroke-width:2.2" cx="533" cy="727.4" rx="4.4" ry="5.2"/>
<path class="t" d="M527 722.3 C524.6 725 524.6 730 527 732.6"/>
<!-- dots -->
<ellipse class="k" cx="605.3" cy="863.8" rx="1.5" ry="1.9"/><ellipse class="k" cx="605.3" cy="872.0" rx="1.5" ry="1.9"/><ellipse class="k" cx="605.3" cy="880.0" rx="1.5" ry="1.9"/><ellipse class="k" cx="605.3" cy="888.0" rx="1.5" ry="1.9"/><ellipse class="k" cx="605.3" cy="895.5" rx="1.5" ry="1.9"/><ellipse class="k" cx="612.3" cy="863.8" rx="1.5" ry="1.9"/><ellipse class="k" cx="612.3" cy="872.0" rx="1.5" ry="1.9"/><ellipse class="k" cx="612.3" cy="880.0" rx="1.5" ry="1.9"/><ellipse class="k" cx="612.3" cy="888.0" rx="1.5" ry="1.9"/><ellipse class="k" cx="612.3" cy="895.5" rx="1.5" ry="1.9"/><ellipse class="k" cx="619.3" cy="863.8" rx="1.5" ry="1.9"/><ellipse class="k" cx="619.3" cy="872.0" rx="1.5" ry="1.9"/><ellipse class="k" cx="619.3" cy="880.0" rx="1.5" ry="1.9"/><ellipse class="k" cx="619.3" cy="888.0" rx="1.5" ry="1.9"/><ellipse class="k" cx="619.3" cy="895.5" rx="1.5" ry="1.9"/><ellipse class="k" cx="626.3" cy="863.8" rx="1.5" ry="1.9"/><ellipse class="k" cx="626.3" cy="872.0" rx="1.5" ry="1.9"/><ellipse class="k" cx="626.3" cy="880.0" rx="1.5" ry="1.9"/><ellipse class="k" cx="626.3" cy="888.0" rx="1.5" ry="1.9"/><ellipse class="k" cx="626.3" cy="895.5" rx="1.5" ry="1.9"/><ellipse class="k" cx="633.3" cy="863.8" rx="1.5" ry="1.9"/><ellipse class="k" cx="633.3" cy="872.0" rx="1.5" ry="1.9"/><ellipse class="k" cx="633.3" cy="880.0" rx="1.5" ry="1.9"/><ellipse class="k" cx="633.3" cy="888.0" rx="1.5" ry="1.9"/><ellipse class="k" cx="633.3" cy="895.5" rx="1.5" ry="1.9"/>
<!-- warning triangle -->
<path class="s" d="M617.6 940 Q619.8 936.5 621.8 940 L641 974.5 Q642 977.5 638.5 978 L598.5 980.3 Q594.5 980.3 596.3 977 Z"/>
<path class="k" d="M615.9 951.8 L621.9 951.8 L620.3 965 Q618.6 967 617.4 965 Z"/>
<path d="M617.9 953.6 L619.9 953.6 L619 961.5 L618.5 961.5 Z" fill="#fff"/>
<rect class="k" x="616.7" y="969.2" width="3.8" height="3.5" rx="1"/>
<!-- lower left lock -->
<path class="w" d="M497.3 1003 L497.3 1084.8 C497.3 1087 505.2 1087 505.2 1084.8 L505.2 1003 Z"/>
<path class="w" d="M482.4 1000 L483.2 1013 C484 1018.5 492.5 1018 492.9 1013.5 L494.7 1002 Z"/>
<path class="w" d="M514.4 969.9 L533.3 970.8 C537.8 971.5 537.8 979.5 533.3 980 L514.4 980.5 Z"/>
<path class="w" d="M469.5 928.2 L493 928.2 C498.5 928.5 500.8 932 500.8 937 L500.8 941.4 L499 941.4 L499 952 L495.5 952.5 L495.5 941.4 C495.5 940.5 494.5 940.3 492 940.3 L469.5 938.5 C463 938 462.5 928.5 469.5 928.2 Z"/>
<path class="w" d="M464.3 965.1 L473.6 963.8 L487.5 968.6 L488.5 999.4 L464.8 992.3 Z"/>
<path class="s" d="M466.3 968 L467 990.5"/>
<ellipse class="s" cx="476.7" cy="979.6" rx="6.6" ry="11.2"/>
<path class="w" d="M487.2 952.8 L502.6 950.6 L514.4 959 L514 1001 Q513.5 1004.6 510.5 1004.6 L501.7 1002.9 L488.5 999.4 Z"/>
<path class="s" d="M488 955.5 L490.5 956 M491.2 959 Q498 958.8 505.2 956.7 M503.5 962.5 L508.7 962"/>
<path class="s" d="M495.1 980 L506.1 981.8 L500.8 1001"/>
<!-- lower right lock -->
<path class="w" d="M767.1 941.4 L767.1 925 C767.1 923.3 766 922.6 764.5 922.6 L753.5 922.6 C747 922.3 747 912.8 753.5 912.5 L769 912.5 C773.5 912.8 775.5 916 775.5 919.5 L775.5 941.4"/>
<path class="s" d="M747.3 936.4 L751 936.4 L751 943.9"/>
<path class="w" d="M747.9 948.3 L782.4 941.4 L786.8 949.6 L786.8 983.4 L774.9 977.8 L748 958 Z"/>
<path class="w" d="M752.5 951 L783.5 946 L783.5 972 L774.9 977.8 L760 976.8 C753 977.5 749.5 976 749.2 971 L749.2 955 C749.2 952.5 750 951.4 752.5 951 Z"/>
<path class="s" d="M772.5 955.5 C779 956 781 961 780.5 966.5 C780 972 777 975 774.5 975.5"/>
<path class="s" d="M754 975.3 L762 974.7 M750.4 979 L751.7 987.8 L765.5 992.8 M756 980.5 L756.2 989"/>
<path class="w" d="M766.1 1053 L766.1 962 C766.1 955 774.3 955 774.3 962 L774.3 1053 C774.3 1055.2 766.1 1055.2 766.1 1053 Z"/>
<path class="w" d="M765.3 1031.5 L761 1033 C758.8 1033.3 758.6 1034.5 758.6 1036 L759.2 1050 C759.3 1052 760 1052.6 761.5 1052.8 L765.3 1053.5"/>
</g>
<!--DETAILS-END-->

</svg>
</body>
</html>
